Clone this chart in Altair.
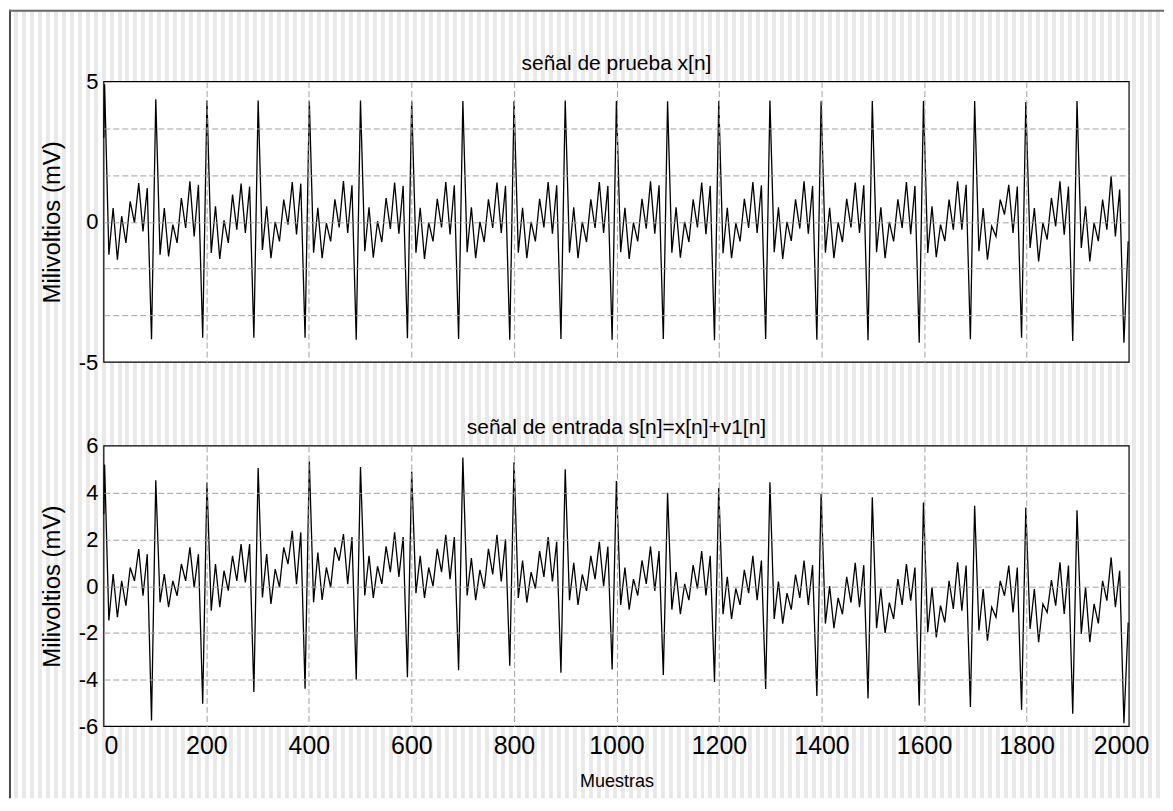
import altair as alt
import pandas as pd

# ---------------- data ----------------
# sample positions (Muestras) of the plotted vertices
muestras = [0.0] + [round(1.5 + 8.32 * k, 2) for k in range(241)]

# top panel: señal de prueba x[n]
x_senal = [3.00,
    4.90, -1.17, 0.49, -1.35, 0.20, -0.75, 0.73, -0.04, 1.38, -0.34, 1.20, -4.19,
    4.37, -1.17, 0.49, -1.23, -0.10, -0.75, 0.85, -0.22, 1.44, -0.52, 1.32, -4.13,
    4.32, -1.11, 0.55, -1.32, 0.05, -0.75, 0.97, -0.28, 1.36, -0.40, 1.26, -4.13,
    4.32, -1.00, 0.55, -1.30, 0.00, -0.70, 0.79, -0.10, 1.42, -0.45, 1.36, -4.13,
    4.30, -1.10, 0.50, -1.30, -0.05, -0.70, 0.80, -0.20, 1.45, -0.40, 1.30, -4.20,
    4.32, -1.05, 0.52, -1.28, 0.02, -0.72, 0.85, -0.25, 1.40, -0.42, 1.28, -4.15,
    4.30, -1.10, 0.50, -1.32, -0.02, -0.70, 0.82, -0.20, 1.42, -0.45, 1.30, -4.18,
    4.31, -1.08, 0.52, -1.30, 0.00, -0.72, 0.80, -0.22, 1.40, -0.40, 1.28, -4.20,
    4.30, -1.10, 0.50, -1.30, 0.00, -0.70, 0.82, -0.20, 1.42, -0.42, 1.30, -4.18,
    4.32, -1.10, 0.52, -1.30, 0.00, -0.72, 0.80, -0.22, 1.42, -0.40, 1.28, -4.20,
    4.31, -1.08, 0.50, -1.32, -0.03, -0.70, 0.82, -0.24, 1.44, -0.42, 1.30, -4.18,
    4.30, -1.10, 0.52, -1.28, 0.00, -0.72, 0.80, -0.20, 1.40, -0.44, 1.28, -4.22,
    4.31, -1.12, 0.50, -1.30, -0.05, -0.70, 0.82, -0.22, 1.42, -0.40, 1.30, -4.18,
    4.32, -1.08, 0.52, -1.32, 0.00, -0.68, 0.80, -0.24, 1.44, -0.42, 1.28, -4.20,
    4.30, -1.10, 0.50, -1.30, -0.02, -0.72, 0.82, -0.20, 1.40, -0.40, 1.30, -4.22,
    4.31, -1.08, 0.52, -1.30, 0.00, -0.70, 0.80, -0.22, 1.42, -0.44, 1.28, -4.31,
    4.31, -1.11, 0.55, -1.26, -0.10, -0.69, 0.79, -0.28, 1.44, -0.28, 1.32, -4.19,
    4.31, -1.05, 0.49, -1.35, -0.16, -0.52, 0.79, 0.26, 1.32, -0.40, 1.26, -4.13,
    4.27, -0.93, 0.49, -1.41, -0.04, -0.63, 0.85, -0.16, 1.44, -0.46, 1.26, -4.25,
    4.31, -0.93, 0.55, -1.41, -0.04, -0.69, 0.79, -0.28, 1.62, -0.52, 1.15, -4.31,
    -0.69]

# bottom panel: señal de entrada s[n] = x[n] + v1[n]
s_senal = [3.08,
    5.20, -1.47, 0.52, -1.33, 0.23, -0.83, 0.80, 0.23, 1.59, -0.41, 1.37, -5.74,
    4.53, -0.69, 0.52, -0.90, 0.23, -0.41, 0.95, 0.23, 1.66, -0.05, 1.37, -5.03,
    4.43, -1.05, 0.95, -0.90, 0.66, -0.19, 1.30, 0.23, 1.80, 0.16, 1.80, -4.53,
    5.05, -0.48, 1.37, -0.76, 0.73, -0.05, 1.66, 0.95, 2.37, 0.09, 2.30, -4.39,
    5.33, -0.69, 1.44, -0.59, 0.80, -0.05, 1.66, 1.09, 2.23, 0.09, 2.10, -4.00,
    5.10, -0.40, 1.30, -0.50, 0.85, 0.10, 1.70, 0.60, 2.30, 0.40, 2.10, -3.90,
    4.90, -0.30, 1.30, -0.50, 0.80, 0.00, 1.60, 0.60, 2.20, 0.30, 2.10, -3.60,
    5.50, -0.40, 1.20, -0.60, 0.70, -0.10, 1.60, 0.50, 2.20, 0.20, 2.00, -3.40,
    5.30, -0.50, 1.10, -0.70, 0.60, -0.10, 1.50, 0.40, 2.10, 0.20, 1.90, -3.70,
    5.00, -0.60, 1.00, -0.80, 0.50, -0.20, 1.30, 0.30, 1.90, 0.00, 1.70, -3.56,
    4.50, -0.80, 0.80, -1.00, 0.30, -0.40, 1.10, 0.10, 1.70, -0.20, 1.50, -3.80,
    4.00, -1.00, 0.60, -1.20, 0.10, -0.60, 0.90, -0.10, 1.50, -0.40, 1.30, -4.10,
    4.20, -1.20, 0.40, -1.40, -0.10, -0.80, 0.70, -0.30, 1.30, -0.60, 1.10, -4.40,
    4.45, -1.40, 0.20, -1.60, -0.30, -1.00, 0.50, -0.50, 1.10, -0.80, 0.90, -4.70,
    3.95, -1.60, 0.00, -1.80, -0.50, -1.20, 0.40, -0.70, 1.00, -0.90, 0.90, -4.80,
    3.80, -1.80, -0.10, -2.00, -0.70, -1.40, 0.30, -0.80, 0.95, -0.62, 0.80, -5.10,
    3.58, -1.97, -0.05, -2.19, -0.83, -1.55, 0.23, -0.97, 1.02, -1.05, 0.88, -5.17,
    3.44, -1.90, -0.12, -2.33, -0.90, -1.33, 0.23, -0.41, 0.88, -1.12, 0.80, -5.29,
    3.37, -1.83, -0.12, -2.40, -0.76, -1.12, 0.26, -0.83, 1.02, -1.19, 0.88, -5.46,
    3.25, -2.04, -0.05, -2.40, -0.76, -1.59, 0.23, -0.62, 1.23, -0.90, 0.66, -5.86,
    -1.55]

x_ticks = [0, 200, 400, 600, 800, 1000, 1200, 1400, 1600, 1800, 2000]
y_grid_top = [-5, -10 / 3, -5 / 3, 0, 5 / 3, 10 / 3, 5]
y_ticks_bot = [-6, -4, -2, 0, 2, 4, 6]

titulo_top = "señal de prueba x[n]"
titulo_bot = "señal de entrada s[n]=x[n]+v1[n]"
eje_y = "Milivoltios (mV)"
eje_x = "Muestras"

# ---------------- layout / style ----------------
W, H = 1027, 281
GAP = 84
FIG_L, FIG_T = 95, 72          # figure edge relative to top plot origin
FIG_W, FIG_H = 1157, 790
FONT = "Liberation Sans"
GRID = "#a3a3a3"

# vertical striped figure background as a linear gradient
stripe_gray = "#e9e9e9"
stops = [alt.GradientStop(color="white", offset=0)]
m = 0
while True:
    a = (4.7 + 8 * m) / FIG_W
    b = (8.7 + 8 * m) / FIG_W
    if a >= 1:
        break
    b = min(b, 1.0)
    stops += [alt.GradientStop(color="white", offset=round(a, 6)),
              alt.GradientStop(color=stripe_gray, offset=round(a, 6)),
              alt.GradientStop(color=stripe_gray, offset=round(b, 6)),
              alt.GradientStop(color="white", offset=round(b, 6))]
    m += 1
stripes_fill = alt.LinearGradient(gradient="linear", stops=stops, x1=0, x2=1, y1=0, y2=0)

one = pd.DataFrame({"k": [0]})

stripes = alt.Chart(one).mark_rect(fill=stripes_fill).encode(
    x=alt.value(-FIG_L), x2=alt.value(FIG_W - FIG_L),
    y=alt.value(-FIG_T), y2=alt.value(FIG_H - FIG_T))
edge_left = alt.Chart(one).mark_rule(color="#4a4a4a", strokeWidth=2).encode(
    x=alt.value(-FIG_L + 1), y=alt.value(-FIG_T), y2=alt.value(FIG_H - FIG_T))
edge_top = alt.Chart(one).mark_rule(color="#6a6a6a", strokeWidth=2).encode(
    x=alt.value(-FIG_L), x2=alt.value(FIG_W - FIG_L), y=alt.value(-FIG_T + 1))

frame = alt.Chart(one).mark_rect(fill="white", stroke="black", strokeWidth=1.2).encode(
    x=alt.value(0), x2=alt.value(W), y=alt.value(0), y2=alt.value(H))


def panel_title(text):
    return alt.Chart(one).mark_text(text=text, font=FONT, fontSize=21, color="black",
                                    align="center", baseline="middle").encode(
        x=alt.value(W / 2), y=alt.value(-18))


x_scale = alt.Scale(domain=[0, 2000], nice=False, zero=False)
grid_x_op = {"condition": {"test": "datum.value <= 0 || datum.value >= 2000", "value": 0}, "value": 1}
label_x_off = {"condition": [{"test": "datum.value <= 0", "value": 7},
                             {"test": "datum.value >= 2000", "value": -8}], "value": 0}


def x_axis(show_labels):
    kw = dict(values=x_ticks, grid=True, gridDash=[6, 3], gridColor=GRID, gridWidth=1,
              gridOpacity=grid_x_op, ticks=False, domain=False, zindex=1)
    if show_labels:
        return alt.Axis(labels=True, format="d", labelFont=FONT, labelFontSize=25,
                        labelColor="black", labelPadding=7, labelFlush=False,
                        labelOffset=label_x_off, title=eje_x, titleFont=FONT,
                        titleFontSize=18, titleFontWeight="normal", titleColor="black",
                        titleY=55, titleBaseline="middle", **kw)
    return alt.Axis(labels=False, title=None, **kw)


def y_axis(values, label_expr, grid_test):
    return alt.Axis(values=values, labelExpr=label_expr, grid=True, gridDash=[6, 3],
                    gridColor=GRID, gridWidth=1,
                    gridOpacity={"condition": {"test": grid_test, "value": 0}, "value": 1},
                    ticks=False, domain=False, labelFont=FONT, labelFontSize=22,
                    labelColor="black", labelPadding=6, title=eje_y, titleFont=FONT,
                    titleFontSize=24, titleFontWeight="normal", titleColor="black",
                    titleX=-51, titleBaseline="middle", zindex=1)


df_top = pd.DataFrame({"n": muestras, "v": x_senal})
df_bot = pd.DataFrame({"n": muestras, "v": s_senal})

line_top = alt.Chart(df_top).mark_line(color="black", strokeWidth=1.3).encode(
    x=alt.X("n:Q", scale=x_scale, axis=x_axis(False)),
    y=alt.Y("v:Q", scale=alt.Scale(domain=[-5, 5], nice=False, zero=False),
            axis=y_axis(y_grid_top,
                        "abs(datum.value - 5*round(datum.value/5)) < 0.01 ? "
                        "(datum.value < -0.01 ? '-' : '') + format(abs(datum.value), '.0f') : ''",
                        "abs(datum.value) > 4.99")))

line_bot = alt.Chart(df_bot).mark_line(color="black", strokeWidth=1.3).encode(
    x=alt.X("n:Q", scale=x_scale, axis=x_axis(True)),
    y=alt.Y("v:Q", scale=alt.Scale(domain=[-6, 6], nice=False, zero=False),
            axis=y_axis(y_ticks_bot,
                        "(datum.value < -0.01 ? '-' : '') + format(abs(datum.value), '.0f')",
                        "abs(datum.value) > 5.99")))

top = alt.layer(stripes, edge_left, edge_top, frame, line_top,
                panel_title(titulo_top)).properties(width=W, height=H)
bot = alt.layer(frame, line_bot, panel_title(titulo_bot)).properties(width=W, height=H)

chart = alt.vconcat(top, bot, spacing=GAP, bounds="flush").properties(
    padding=0, background="white"
).configure_view(strokeWidth=0)

chart.save("out.html", embed_options={"renderer": "svg", "actions": False})
